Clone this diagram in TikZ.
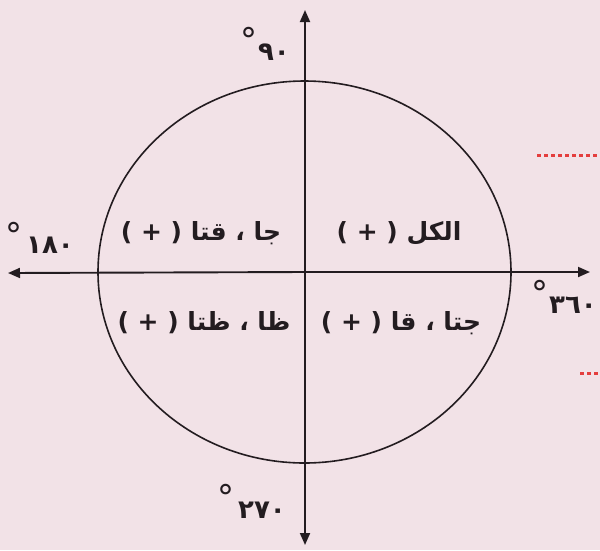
\documentclass[tikz,border=0pt]{standalone}
\usepackage{fontspec}
\setmainfont{DejaVu Sans}
\newfontfamily\arabicfont[Script=Arabic]{DejaVu Sans}
\TeXXeTstate=1
\usetikzlibrary{arrows.meta}
\definecolor{bg}{RGB}{242,226,231}
\definecolor{ink}{RGB}{35,28,32}
\definecolor{dotred}{RGB}{228,62,62}
\newcommand{\plusparen}{{\normalfont\bfseries ( + )}}
\begin{document}
\begin{tikzpicture}[x=1pt,y=-1pt,
  axis/.style={draw=ink,line width=1.9pt,-{Triangle[length=12pt,width=10pt]}},
  qtext/.style={font=\bfseries\fontsize{25}{29}\selectfont,text=ink,inner sep=0pt},
  numtext/.style={font=\arabicfont\bfseries\fontsize{26}{30}\selectfont,text=ink,inner sep=0pt},
  degtext/.style={font=\fontsize{34}{36}\selectfont,text=ink,inner sep=0pt}]
\fill[bg] (0,0) rectangle (600,550);
\useasboundingbox (0,0) rectangle (600,550);
% axes
\coordinate (O) at (305,272);
\coordinate (vt) at (305,10);
\coordinate (vb) at (305,545);
\coordinate (hl) at (8,273);
\coordinate (hr) at (590,272);
\draw[axis] (O) -- (vt);
\draw[axis] (O) -- (vb);
\draw[axis] (O) -- (hl);
\draw[axis] (O) -- (hr);
% circle
\draw[ink,line width=1.6pt] (304.5,272) ellipse [x radius=206.5,y radius=191];
% quadrant texts
\node[qtext] (q1) at (399,233) {\plusparen\ {\arabicfont\beginR الكل\endR}};
\node[qtext] (q2) at (201,233) {\plusparen\ {\arabicfont\beginR جا ، قتا\endR}};
\node[qtext] (q3) at (204,323) {\plusparen\ {\arabicfont\beginR ظا ، ظتا\endR}};
\node[qtext] (q4) at (401,323) {\plusparen\ {\arabicfont\beginR جتا ، قا\endR}};
% angle labels
\node[numtext] (n90) at (274,52) {٩٠};
\node[degtext] (d90) at (249,40) {°};
\node[numtext] (n180) at (50,245) {١٨٠};
\node[degtext] (d180) at (14,235) {°};
\node[numtext,anchor=west] (n360) at (549,305) {٣٦٠};
\node[degtext] (d360) at (540,293) {°};
\node[numtext] (n270) at (262,510) {٢٧٠};
\node[degtext] (d270) at (226,497) {°};
% red dotted marks at the right edge
\draw[dotred,line width=3pt,dash pattern=on 4pt off 3pt] (537,155) -- (600,155);
\draw[dotred,line width=3pt,dash pattern=on 4pt off 3pt] (580,373) -- (600,373);
\end{tikzpicture}
\end{document}
